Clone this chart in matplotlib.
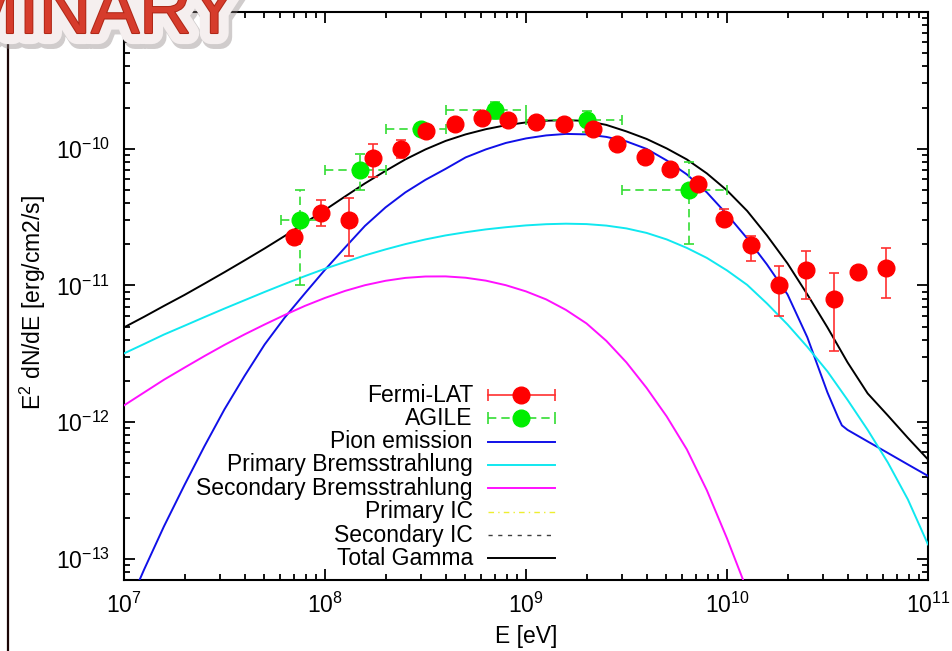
import numpy as np
import matplotlib
matplotlib.use("Agg")
import matplotlib.pyplot as plt
import matplotlib.patheffects as pe
from matplotlib.ticker import LogLocator, FuncFormatter, NullFormatter

plt.rcParams['font.family'] = ['Liberation Sans', 'DejaVu Sans']
plt.rcParams['mathtext.fontset'] = 'custom'
plt.rcParams['mathtext.rm'] = 'Liberation Sans'
plt.rcParams['mathtext.it'] = 'Liberation Sans:italic'
plt.rcParams['mathtext.default'] = 'regular'

# ---------------- Fermi-LAT spectral points ----------------
fermi_E = [7.01e7, 9.53e7, 1.31e8, 1.73e8, 2.39e8, 3.17e8, 4.45e8, 6.03e8,
           8.13e8, 1.12e9, 1.54e9, 2.15e9, 2.84e9, 3.91e9, 5.20e9, 7.19e9,
           9.70e9, 1.32e10, 1.82e10, 2.47e10, 3.40e10, 4.50e10, 6.18e10]
fermi_F = [2.25e-11, 3.38e-11, 3.03e-11, 8.54e-11, 1.00e-10, 1.34e-10, 1.52e-10, 1.69e-10,
           1.63e-10, 1.58e-10, 1.52e-10, 1.39e-10, 1.08e-10, 8.63e-11, 7.06e-11, 5.55e-11,
           3.08e-11, 1.96e-11, 1.01e-11, 1.30e-11, 7.91e-12, 1.25e-11, 1.33e-11]
fermi_lo = [2.05e-11, 2.70e-11, 1.65e-11, 6.20e-11, 8.59e-11, 1.25e-10, 1.45e-10, 1.62e-10,
            1.57e-10, 1.52e-10, 1.46e-10, 1.33e-10, 1.03e-10, 8.20e-11, 6.70e-11, 5.20e-11,
            2.72e-11, 1.52e-11, 6.00e-12, 8.00e-12, 3.30e-12, 1.15e-11, 8.07e-12]
fermi_hi = [2.45e-11, 4.23e-11, 4.38e-11, 1.09e-10, 1.15e-10, 1.43e-10, 1.59e-10, 1.76e-10,
            1.69e-10, 1.64e-10, 1.58e-10, 1.45e-10, 1.13e-10, 9.10e-11, 7.40e-11, 5.90e-11,
            3.60e-11, 2.31e-11, 1.38e-11, 1.78e-11, 1.23e-11, 1.35e-11, 1.87e-11]

# ---------------- AGILE spectral points ----------------
agile_E = [7.51e7, 1.49e8, 2.99e8, 7.03e8, 2.00e9, 6.47e9]
agile_Elo = [6.04e7, 1.00e8, 2.00e8, 4.00e8, 1.00e9, 3.00e9]
agile_Ehi = [9.50e7, 2.00e8, 4.00e8, 1.00e9, 3.00e9, 1.00e10]
agile_F = [3.03e-11, 7.02e-11, 1.40e-10, 1.91e-10, 1.61e-10, 5.01e-11]
agile_Flo = [1.00e-11, 5.01e-11, 1.30e-10, 1.64e-10, 1.32e-10, 2.02e-11]
agile_Fhi = [5.01e-11, 9.09e-11, 1.50e-10, 2.21e-10, 1.88e-10, 7.98e-11]

# ---------------- model components (energy grid in eV) ----------------
grid_E = [1.00e7, 1.26e7, 1.58e7, 2.00e7, 2.51e7, 3.16e7, 3.98e7, 5.01e7, 6.31e7, 7.94e7,
          1.00e8, 1.26e8, 1.58e8, 2.00e8, 2.51e8, 3.16e8, 3.98e8, 5.01e8, 6.31e8, 7.94e8,
          1.00e9, 1.26e9, 1.58e9, 2.00e9, 2.51e9, 3.16e9, 3.98e9, 5.01e9, 6.31e9, 7.94e9,
          1.00e10, 1.26e10, 1.58e10, 2.00e10, 2.51e10, 3.16e10, 3.98e10, 5.01e10, 6.31e10, 7.94e10,
          1.00e11]

pion_E = [1.00e7, 1.26e7, 1.58e7, 2.00e7, 2.51e7, 3.16e7, 3.98e7, 5.01e7, 6.31e7, 7.94e7,
          1.00e8, 1.26e8, 1.58e8, 2.00e8, 2.51e8, 3.16e8, 3.98e8, 5.01e8, 6.31e8, 7.94e8,
          1.00e9, 1.26e9, 1.58e9, 2.00e9, 2.51e9, 3.16e9, 3.98e9, 5.01e9, 6.31e9, 7.94e9,
          1.00e10, 1.26e10, 1.58e10, 2.00e10, 2.51e10, 3.16e10, 3.57e10, 3.73e10, 3.98e10,
          5.01e10, 6.31e10, 7.94e10, 1.00e11]
pion_F = [3.85e-14, 8.37e-14, 1.726e-13, 3.47e-13, 6.64e-13, 1.239e-12, 2.178e-12, 3.70e-12, 5.83e-12, 8.74e-12,
          1.302e-11, 1.897e-11, 2.724e-11, 3.72e-11, 4.79e-11, 5.92e-11, 7.12e-11, 8.64e-11, 9.88e-11, 1.102e-10,
          1.189e-10, 1.251e-10, 1.283e-10, 1.273e-10, 1.220e-10, 1.131e-10, 9.97e-11, 8.21e-11, 6.49e-11, 4.79e-11,
          3.307e-11, 2.207e-11, 1.424e-11, 8.59e-12, 4.17e-12, 1.649e-12, 1.083e-12, 9.46e-13, 8.77e-13,
          7.22e-13, 5.95e-13, 4.90e-13, 4.04e-13]

prim_brems_F = [3.18e-12, 3.73e-12, 4.37e-12, 5.07e-12, 5.86e-12, 6.77e-12, 7.79e-12, 8.96e-12, 1.026e-11, 1.169e-11,
                1.325e-11, 1.485e-11, 1.658e-11, 1.834e-11, 2.005e-11, 2.170e-11, 2.321e-11, 2.450e-11, 2.569e-11, 2.665e-11,
                2.748e-11, 2.804e-11, 2.828e-11, 2.809e-11, 2.739e-11, 2.612e-11, 2.421e-11, 2.170e-11, 1.881e-11, 1.589e-11,
                1.287e-11, 1.009e-11, 7.38e-12, 5.18e-12, 3.55e-12, 2.349e-12, 1.453e-12, 8.77e-13, 5.07e-13, 2.72e-13,
                1.274e-13]

sec_brems_F = [1.325e-12, 1.649e-12, 2.042e-12, 2.504e-12, 3.039e-12, 3.671e-12, 4.382e-12, 5.18e-12, 6.085e-12, 7.08e-12,
               8.10e-12, 9.12e-12, 1.0035e-11, 1.081e-11, 1.135e-11, 1.162e-11, 1.164e-11, 1.138e-11, 1.084e-11, 1.0035e-11,
               9.04e-12, 7.90e-12, 6.62e-12, 5.27e-12, 3.93e-12, 2.733e-12, 1.779e-12, 1.101e-12, 6.32e-13, 3.17e-13,
               1.410e-13, 5.87e-14]

total_F = [4.93e-12, 5.90e-12, 7.08e-12, 8.52e-12, 1.029e-11, 1.249e-11, 1.524e-11, 1.865e-11, 2.302e-11, 2.866e-11,
           3.566e-11, 4.478e-11, 5.574e-11, 6.881e-11, 8.35e-11, 9.88e-11, 1.140e-10, 1.273e-10, 1.389e-10, 1.485e-10,
           1.557e-10, 1.602e-10, 1.618e-10, 1.597e-10, 1.493e-10, 1.338e-10, 1.179e-10, 1.005e-10, 8.35e-11, 6.597e-11,
           4.954e-11, 3.506e-11, 2.321e-11, 1.448e-11, 8.59e-12, 4.93e-12, 2.733e-12, 1.621e-12, 1.119e-12, 7.67e-13,
           5.33e-13]

legend_labels = ["Fermi-LAT", "AGILE", "Pion emission", "Primary Bremsstrahlung",
                 "Secondary Bremsstrahlung", "Primary IC", "Secondary IC", "Total Gamma"]

FS = 16.5

fig = plt.figure(figsize=(9.53, 6.51), dpi=100)
ax = fig.add_axes([124 / 953, 71 / 651, 804 / 953, 568 / 651])
ax.set_xscale('log')
ax.set_yscale('log')
ax.set_xlim(1e7, 1e11)
ax.set_ylim(7e-14, 1e-9)

c_pion = '#1010e8'
c_prim = '#10e8f0'
c_sec = '#ff10ff'

ax.plot(pion_E, pion_F, color=c_pion, lw=1.4, zorder=3)
ax.plot(grid_E, prim_brems_F, color=c_prim, lw=1.4, zorder=3)
ax.plot(grid_E[:len(sec_brems_F)], sec_brems_F, color=c_sec, lw=1.4, zorder=3)
ax.plot(grid_E, total_F, color='black', lw=1.4, zorder=3)

# AGILE points with dashed error bars
aF = np.array(agile_F)
aE = np.array(agile_E)
eb = ax.errorbar(aE, aF,
                 xerr=[aE - np.array(agile_Elo), np.array(agile_Ehi) - aE],
                 yerr=[aF - np.array(agile_Flo), np.array(agile_Fhi) - aF],
                 fmt='o', ms=12, mfc='#00ee00', mec='#00ee00', ecolor='#33dd33',
                 elinewidth=1.2, capsize=3.5, capthick=1.2, zorder=4)
for col in eb[2]:
    col.set_linestyle((0, (5, 3)))

# Fermi-LAT points
fF = np.array(fermi_F)
ax.errorbar(fermi_E, fF, yerr=[fF - np.array(fermi_lo), np.array(fermi_hi) - fF],
            fmt='o', ms=12, mfc='#ff0000', mec='#ff0000', ecolor='#ff3030',
            elinewidth=1.2, capsize=3.5, capthick=1.2, zorder=5)

# axes styling
for sp in ax.spines.values():
    sp.set_linewidth(1.5)
ax.xaxis.set_major_locator(LogLocator(base=10, numticks=10))
ax.yaxis.set_major_locator(LogLocator(base=10, numticks=10))
ax.xaxis.set_minor_locator(LogLocator(base=10, subs=np.arange(2, 10), numticks=20))
ax.yaxis.set_minor_locator(LogLocator(base=10, subs=np.arange(2, 10), numticks=20))
ax.xaxis.set_minor_formatter(NullFormatter())
ax.yaxis.set_minor_formatter(NullFormatter())
fmt = FuncFormatter(lambda v, p: r'$10^{%d}$' % int(round(np.log10(v))))
ax.xaxis.set_major_formatter(fmt)
ax.yaxis.set_major_formatter(fmt)
ax.tick_params(which='both', direction='in', top=True, right=True, width=1.3)
ax.tick_params(which='major', length=8, labelsize=FS)
ax.tick_params(which='minor', length=4.5)
ax.tick_params(axis='x', which='major', pad=9)
ax.tick_params(axis='y', which='major', pad=10)

ax.set_xlabel('E [eV]', fontsize=FS)
ax.set_ylabel(r'E$^{2}$ dN/dE [erg/cm2/s]', fontsize=FS)
ax.xaxis.set_label_coords(0.5, -0.08)
ax.yaxis.set_label_coords(-0.094, 0.488)

# key, gnuplot style: right-aligned text with sample to the right
tx = 0.434
hx0, hx1 = 0.4527, 0.536
rows = [0.3257, 0.2847, 0.2435, 0.2025, 0.1614, 0.1202, 0.0792, 0.0382]
for lab, yy in zip(legend_labels, rows):
    ax.text(tx, yy, lab, transform=ax.transAxes, ha='right', va='center',
            fontsize=FS, zorder=6)
tr = ax.transAxes
ax.plot([hx0, hx1], [rows[0]] * 2, color='#ff3030', lw=1.2, transform=tr, clip_on=False)
ax.plot([hx0, hx1], [rows[0]] * 2, ls='none', marker='|', ms=8, mew=1.2, color='#ff3030',
        transform=tr, clip_on=False)
ax.plot([(hx0 + hx1) / 2], [rows[0]], 'o', ms=12, color='#ff0000', transform=tr, clip_on=False)
ax.plot([hx0, hx1], [rows[1]] * 2, color='#33dd33', lw=1.2, ls=(0, (5, 3)), transform=tr,
        clip_on=False)
ax.plot([hx0, hx1], [rows[1]] * 2, ls='none', marker='|', ms=8, mew=1.2, color='#33dd33',
        transform=tr, clip_on=False)
ax.plot([(hx0 + hx1) / 2], [rows[1]], 'o', ms=12, color='#00ee00', transform=tr, clip_on=False)
ax.plot([hx0, hx1], [rows[2]] * 2, color=c_pion, lw=1.4, transform=tr)
ax.plot([hx0, hx1], [rows[3]] * 2, color=c_prim, lw=1.4, transform=tr)
ax.plot([hx0, hx1], [rows[4]] * 2, color=c_sec, lw=1.4, transform=tr)
ax.plot([hx0, hx1], [rows[5]] * 2, color='#eeee30', lw=1.0, ls=(0, (4, 3, 1, 3)), transform=tr)
ax.plot([hx0, hx1], [rows[6]] * 2, color='#404040', lw=1.0, ls=(0, (3, 4)), transform=tr)
ax.plot([hx0, hx1], [rows[7]] * 2, color='black', lw=1.4, transform=tr)

# page rule on the left edge
fig.add_artist(plt.Line2D([8 / 953, 8 / 953], [0, 1], color='#1a0505', lw=1.6, zorder=1))

# preliminary stamp
stamp = fig.text(238 / 953, 1 - 33 / 651, 'PRELIMINARY', ha='right', va='baseline',
                 fontsize=52, color='#d63c2c', zorder=10,
                 family=['Liberation Sans', 'DejaVu Sans'])
stamp.set_path_effects([
    pe.Stroke(linewidth=17, foreground='#8a8080', alpha=0.4, offset=(2, -3)),
    pe.Stroke(linewidth=16, foreground='#f5efef'),
    pe.Stroke(linewidth=1.5, foreground='#b02818'),
    pe.Normal(),
])

fig.savefig('out.png', dpi=100)
